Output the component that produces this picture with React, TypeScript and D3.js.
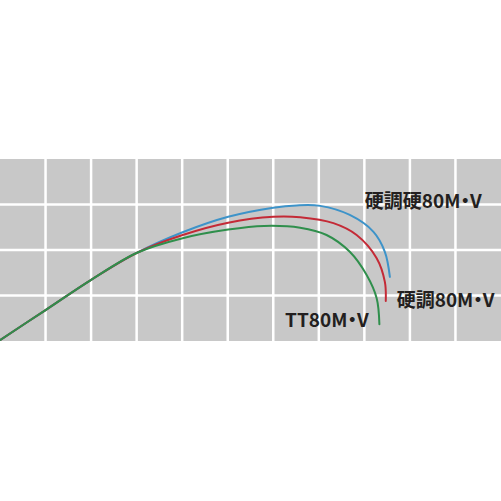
import React from 'react';
import * as d3 from 'd3';

// grid: 11 columns x 4 rows
const columns = d3.range(12);
const rows = d3.range(5);

// shared start of all three curves (grid units)
const commonPath: [number, number][] = [
    [0, 0.02], [1.0, 0.68], [2.01, 1.35], [3.01, 1.94],
];
const blueValues: [number, number][] = [
    [4.01, 2.39], [5.01, 2.73], [6.0, 2.93], [6.51, 2.98], [7.03, 2.97],
    [7.68, 2.77], [8.2, 2.4], [8.45, 1.96], [8.56, 1.41],
];
const redValues: [number, number][] = [
    [4.01, 2.33], [5.01, 2.6], [6.0, 2.73], [6.59, 2.72], [7.32, 2.59],
    [7.83, 2.33], [8.27, 1.82], [8.45, 1.3], [8.47, 0.88],
];
const greenValues: [number, number][] = [
    [4.01, 2.26], [5.01, 2.45], [5.8, 2.53], [6.59, 2.49], [7.17, 2.33],
    [7.68, 1.96], [8.05, 1.45], [8.27, 0.94], [8.33, 0.37],
];
const seriesNames = ['硬調硬80M・V', '硬調80M・V', 'TT80M・V'];
const seriesColors = ['#3d93c9', '#c42a36', '#2f8f4c'];
// label anchor (grid units): left x, baseline y
const labelAnchors: [number, number][] = [[8.01, 2.93], [8.71, 0.75], [6.26, 0.31]];

const width = 501;
const height = 501;
const plotTop = 159;
const plotBottom = 341;

export default function App() {
    const x = d3.scaleLinear().domain([0, 11]).range([0, width]);
    const y = d3.scaleLinear().domain([0, 4]).range([plotBottom, plotTop]);
    const line = d3.line<[number, number]>()
        .x(d => x(d[0]))
        .y(d => y(d[1]))
        .curve(d3.curveCatmullRom.alpha(0.5));
    const series = [blueValues, redValues, greenValues].map(v => [...commonPath, ...v]);

    return (
        <svg width={width} height={height} style={{ position: 'absolute', left: 0, top: 0 }}>
            <rect x={0} y={0} width={width} height={height} fill="#fff" />
            <rect x={0} y={plotTop} width={width} height={plotBottom - plotTop} fill="#c8c8c8" />
            <g stroke="#fff" strokeWidth={2.5}>
                {columns.slice(1, -1).map(c => (
                    <line key={'c' + c} x1={x(c)} x2={x(c)} y1={plotTop} y2={plotBottom} />
                ))}
                {rows.slice(1, -1).map(r => (
                    <line key={'r' + r} x1={0} x2={width} y1={y(r)} y2={y(r)} />
                ))}
            </g>
            <g fill="none" strokeWidth={2} strokeLinecap="round">
                {/* green last, so the shared start shows green */}
                {series.map((s, i) => (
                    <path key={i} d={line(s) ?? ''} stroke={seriesColors[i]} />
                ))}
            </g>
            <g
                fontFamily="'Noto Sans CJK JP', sans-serif"
                fontWeight={700}
                fontSize={19}
                fill="#231f20"
                style={{ fontFeatureSettings: "'palt'" }}
            >
                {seriesNames.map((name, i) => (
                    <text key={name} x={x(labelAnchors[i][0])} y={y(labelAnchors[i][1])}>
                        {name}
                    </text>
                ))}
            </g>
        </svg>
    );
}
